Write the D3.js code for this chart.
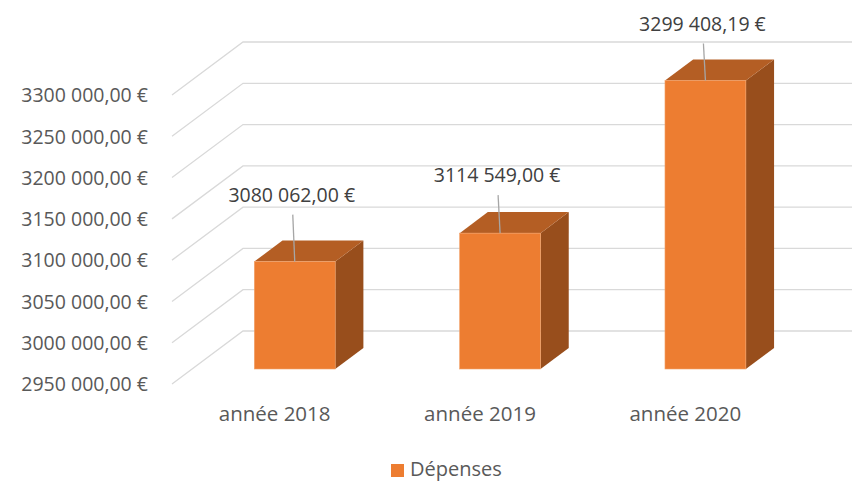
<!DOCTYPE html>
<html>
<head>
<meta charset="utf-8">
<script src="https://cdn.jsdelivr.net/npm/d3@7"></script>
<style>
  body { margin: 0; background: #fff; }
  text { font-family: "Open Sans", "Noto Sans", sans-serif; fill: #595959; }
</style>
</head>
<body>
<div id="chart"></div>
<script>
// data
var categories = ["année 2018", "année 2019", "année 2020"];
var depenses = [3080062.00, 3114549.00, 3299408.19];
var tickValues = [2950000, 3000000, 3050000, 3100000, 3150000, 3200000, 3250000, 3300000];
var seriesName = "Dépenses";

var width = 852, height = 485;

// 3d layout
var floorLeft = 172, floorRight = 788;
var yBottom = 384, yTop = 95;
var depthX = 71, depthY = -53;      // full wall depth
var barFront = 0.283, barBack = 0.68; // bar position inside the depth
var labelLift = [65, 56, 55];

var colFront = "#ED7D31", colTop = "#B45E24", colSide = "#984E1C";

var fr = d3.formatLocale({decimal: ",", thousands: " ", grouping: [3, 4], currency: ["", " €"]});
var euro = fr.format("$,.2f");

var x = d3.scaleBand().domain(categories).range([floorLeft, floorRight])
  .paddingInner(0.606).paddingOuter(0.303);
var y = d3.scaleLinear().domain([tickValues[0], tickValues[tickValues.length - 1]]).range([yBottom, yTop]);

var svg = d3.select("#chart").append("svg")
  .attr("width", width)
  .attr("height", height);

svg.append("rect").attr("width", width).attr("height", height).attr("fill", "#fff");

// gridlines: diagonal on the side wall + horizontal on the back wall
var grid = svg.append("g").attr("id", "grid")
  .attr("stroke", "#D9D9D9").attr("stroke-width", 1.3).attr("fill", "none");
grid.selectAll("path").data(tickValues).enter().append("path")
  .attr("d", function(d) {
    var y0 = y(d);
    return "M" + floorLeft + "," + y0 + "L" + (floorLeft + depthX) + "," + (y0 + depthY) + "L" + width + "," + (y0 + depthY);
  });

// y axis labels
svg.append("g").attr("id", "ylabels").selectAll("text").data(tickValues).enter().append("text")
  .attr("x", 148)
  .attr("y", function(d) { return y(d) + 2; })
  .attr("text-anchor", "end")
  .attr("dominant-baseline", "middle")
  .style("font-size", "19.5px")
  .text(function(d) { return euro(d); });

// bars
var bars = depenses.map(function(v, i) {
  var cat = categories[i];
  var fx = x(cat) + barFront * depthX;
  var fy = barFront * depthY;
  var w = x.bandwidth();
  var ddx = (barBack - barFront) * depthX, ddy = (barBack - barFront) * depthY;
  return {
    value: v, cat: cat,
    left: fx, right: fx + w,
    top: y(v) + fy, bottom: y(tickValues[0]) + fy,
    ddx: ddx, ddy: ddy
  };
});

var barG = svg.append("g").attr("id", "bars").selectAll("g").data(bars).enter().append("g");
barG.append("path")
  .attr("fill", colSide)
  .attr("d", function(d) {
    return "M" + d.right + "," + d.top + "L" + (d.right + d.ddx) + "," + (d.top + d.ddy) +
      "L" + (d.right + d.ddx) + "," + (d.bottom + d.ddy) + "L" + d.right + "," + d.bottom + "Z";
  });
barG.append("path")
  .attr("fill", colTop)
  .attr("d", function(d) {
    return "M" + d.left + "," + d.top + "L" + (d.left + d.ddx) + "," + (d.top + d.ddy) +
      "L" + (d.right + d.ddx) + "," + (d.top + d.ddy) + "L" + d.right + "," + d.top + "Z";
  });
barG.append("rect")
  .attr("fill", colFront)
  .attr("stroke", "#F2A36B").attr("stroke-width", 0.6)
  .attr("x", function(d) { return d.left; })
  .attr("y", function(d) { return d.top; })
  .attr("width", function(d) { return d.right - d.left; })
  .attr("height", function(d) { return d.bottom - d.top; });

// data labels with leader lines
var lab = svg.append("g").attr("id", "labels").selectAll("g").data(bars).enter().append("g");
lab.append("line")
  .attr("stroke", "#A6A6A6").attr("stroke-width", 1.3)
  .attr("x1", function(d) { return (d.left + d.right) / 2 - 2; })
  .attr("y1", function(d, i) { return d.top - labelLift[i] + 18; })
  .attr("x2", function(d) { return (d.left + d.right) / 2; })
  .attr("y2", function(d) { return d.top; });
lab.append("text")
  .attr("x", function(d) { return (d.left + d.right) / 2 - 3; })
  .attr("y", function(d, i) { return d.top - labelLift[i]; })
  .attr("text-anchor", "middle")
  .attr("dominant-baseline", "middle")
  .style("font-size", "19.5px")
  .style("fill", "#404040")
  .text(function(d) { return euro(d.value); });

// category labels
svg.append("g").attr("id", "xlabels").selectAll("text").data(categories).enter().append("text")
  .attr("x", function(d) { return x(d) + x.bandwidth() / 2; })
  .attr("y", 416)
  .attr("text-anchor", "middle")
  .attr("dominant-baseline", "middle")
  .style("font-size", "20.5px")
  .text(function(d) { return d; });

// legend
var legend = svg.append("g").attr("id", "legend");
legend.append("rect").attr("x", 391).attr("y", 464).attr("width", 13).attr("height", 13).attr("fill", colFront);
legend.append("text").attr("x", 410).attr("y", 471)
  .attr("dominant-baseline", "middle")
  .style("font-size", "20px")
  .text(seriesName);
</script>
</body>
</html>
